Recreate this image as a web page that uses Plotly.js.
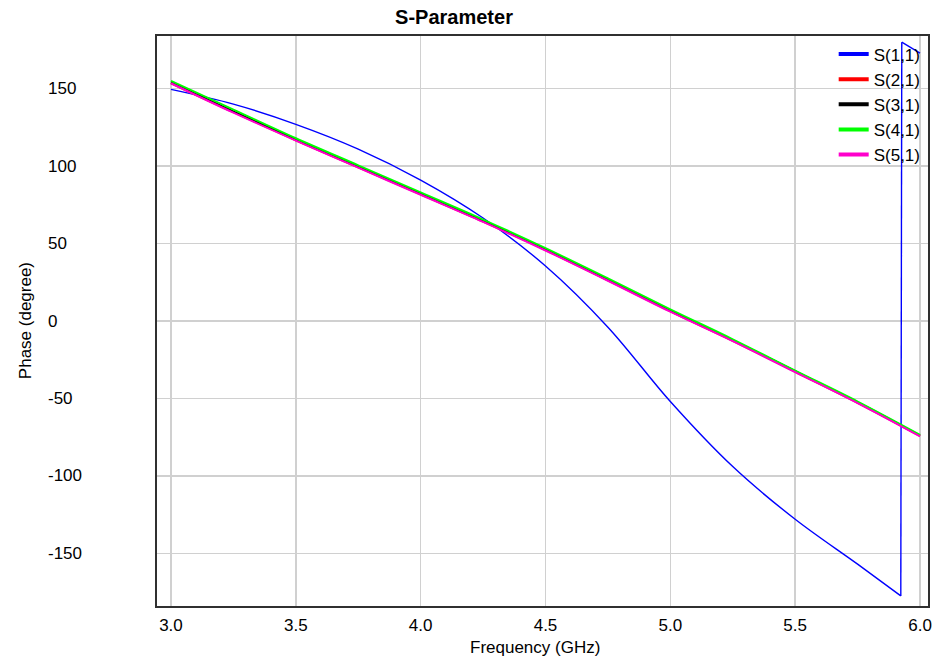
<!DOCTYPE html>
<html>
<head>
<meta charset="utf-8">
<script src="https://cdn.plot.ly/plotly-3.0.1.min.js"></script>
<style>
  html, body { margin: 0; padding: 0; background: #ffffff; }
  #chart { width: 939px; height: 659px; }
</style>
</head>
<body>
<div id="chart"></div>
<script>
// ---- Data ----
// S(1,1): smooth part, then the wrap from -180 to +180 near 5.92 GHz (null = break between drawn pieces)
const freqS11 = [3.0, 3.25, 3.5, 3.75, 4.0, 4.25, 4.5, 4.75, 5.0, 5.25, 5.5, 5.75, 5.923, null, 5.923, 5.927, null, 5.927, 6.0];
const phaseS11 = [149.5, 140, 127, 111, 91, 66.5, 35.5, -4, -52, -94, -128, -157, -177.5, null, -177.5, 180, null, 180, 173];

const freq = [3.0, 3.25, 3.5, 3.75, 4.0, 4.25, 4.5, 4.75, 5.0, 5.25, 5.5, 5.75, 6.0];
const phaseS21 = [153.5, 134.8, 116.7, 99.2, 81.7, 64.2, 45.8, 26.2, 6.2, -12.8, -32.8, -52.8, -74.2];
const phaseS31 = [154.0, 135.3, 117.2, 99.7, 82.2, 64.7, 46.3, 26.8, 6.8, -12.3, -32.4, -52.4, -74.0];
const phaseS41 = [155.0, 136.5, 118.0, 100.5, 83.0, 65.5, 47.0, 27.5, 7.5, -11.8, -32.0, -52.0, -73.5];
const phaseS51 = [153.5, 134.5, 116.5, 99.0, 81.5, 64.0, 45.5, 26.0, 6.0, -13.0, -33.0, -53.0, -74.5];

const seriesNames = ['S(1,1)', 'S(2,1)', 'S(3,1)', 'S(4,1)', 'S(5,1)'];
const seriesColors = ['#0000ff', '#ff0000', '#000000', '#00ff00', '#ff00cc'];

const xTickVals = [3.0, 3.5, 4.0, 4.5, 5.0, 5.5, 6.0];
const xTickText = ['3.0', '3.5', '4.0', '4.5', '5.0', '5.5', '6.0'];
const yTickVals = [150, 100, 50, 0, -50, -100, -150];
const yTickText = ['150', '100', '50', '0', '-50', '-100', '-150'];

const titleText = 'S-Parameter';
const xTitle = 'Frequency (GHz)';
const yTitle = 'Phase (degree)';

// ---- Build traces ----
const seriesY = [phaseS11, phaseS21, phaseS31, phaseS41, phaseS51];
const seriesX = [freqS11, freq, freq, freq, freq];
const widths = [1.4, 2, 2, 2, 2];

const traces = [];
for (let i = 0; i < seriesNames.length; i++) {
  traces.push({
    x: seriesX[i], y: seriesY[i], type: 'scatter', mode: 'lines',
    name: seriesNames[i], showlegend: false, hoverinfo: 'skip', connectgaps: false,
    line: { color: seriesColors[i], width: widths[i], shape: 'spline', smoothing: 1 }
  });
}
// legend entries with thick sample lines
for (let i = 0; i < seriesNames.length; i++) {
  traces.push({
    x: [null], y: [null], type: 'scatter', mode: 'lines',
    name: seriesNames[i], showlegend: true,
    line: { color: seriesColors[i], width: 4 }
  });
}

const FONT = '"Liberation Sans", Arial, sans-serif';

const annotations = yTickVals.map((v, i) => ({
  x: -0.144, xref: 'paper', y: v, yref: 'y',
  text: yTickText[i], showarrow: false, xanchor: 'left', yanchor: 'middle',
  font: { family: FONT, size: 17, color: '#000000' }
}));
annotations.push({
  x: -0.171, xref: 'paper', y: 0.5, yref: 'paper', text: yTitle,
  showarrow: false, textangle: -90, xanchor: 'center', yanchor: 'middle',
  font: { family: FONT, size: 17, color: '#000000' }
});
annotations.push({
  x: 0.49, xref: 'paper', y: -0.072, yref: 'paper', text: xTitle,
  showarrow: false, xanchor: 'center', yanchor: 'middle',
  font: { family: FONT, size: 17, color: '#000000' }
});

const layout = {
  width: 939, height: 659,
  margin: { l: 157, r: 11, t: 36, b: 53, pad: 0 },
  paper_bgcolor: '#ffffff', plot_bgcolor: '#ffffff',
  title: {
    text: '<b>' + titleText + '</b>',
    x: 0.4835, xref: 'container', xanchor: 'center',
    y: 1 - 17 / 659, yref: 'container', yanchor: 'middle',
    font: { family: '"Liberation Sans Narrow", "Liberation Sans", Arial, sans-serif', size: 20, color: '#000000' }
  },
  xaxis: {
    range: [2.944, 6.032], tickvals: xTickVals, ticktext: xTickText,
    showgrid: true, gridcolor: '#d0d0d0', gridwidth: 1.5,
    zeroline: false, showline: true, linecolor: '#303030', linewidth: 2, mirror: true,
    ticks: '', ticklabelstandoff: 3,
    tickfont: { family: FONT, size: 17, color: '#000000' }
  },
  yaxis: {
    range: [-184, 184], tickvals: yTickVals, ticktext: yTickText,
    showticklabels: false,
    showgrid: true, gridcolor: '#d0d0d0', gridwidth: 1.5,
    zeroline: false, showline: true, linecolor: '#303030', linewidth: 2, mirror: true,
    ticks: ''
  },
  legend: {
    x: 0.997, xanchor: 'right', y: 0.999, yanchor: 'top',
    bgcolor: 'rgba(0,0,0,0)', borderwidth: 0,
    font: { family: FONT, size: 17, color: '#000000' },
    tracegroupgap: 0
  },
  annotations: annotations,
  showlegend: true
};

Plotly.newPlot('chart', traces, layout, { displayModeBar: false, staticPlot: true });
</script>
</body>
</html>
